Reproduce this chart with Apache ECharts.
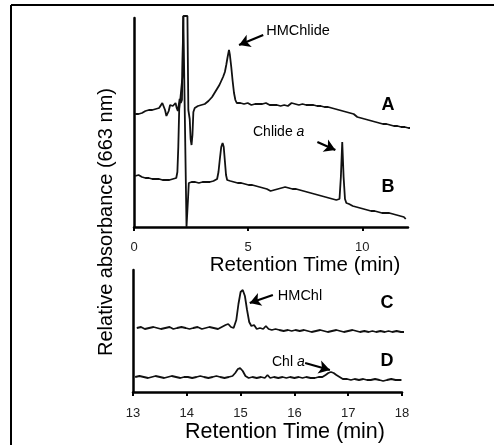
<!DOCTYPE html>
<html>
<head>
<meta charset="utf-8">
<script src="https://cdn.jsdelivr.net/npm/echarts@6/dist/echarts.min.js"></script>
<style>
html,body{margin:0;padding:0;background:#fff;}
#chart{width:494px;height:445px;}
</style>
</head>
<body>
<div id="chart"></div>
<script>
// Top panel ticks (min) and bottom panel ticks (min)
const topTicks = [0, 5, 10];
const bottomTicks = [13, 14, 15, 16, 17, 18];
const traceLabelsTop = ['A', 'B'];
const traceLabelsBottom = ['C', 'D'];

// Trace A: [retention time (min), relative absorbance (arb. units)]
const traceA = [[0.05,113],[0.12,114],[0.2,113],[0.28,115],[0.35,114],[0.42,115],[0.5,116],[0.58,115],[0.65,117],[0.72,116],[0.8,117],[0.88,116],[0.95,118],[1.02,117],[1.1,119],[1.18,120],[1.24,124],[1.3,123],[1.36,117],[1.42,111],[1.47,109],[1.52,116],[1.58,122],[1.64,123],[1.7,121],[1.76,123],[1.82,124],[1.87,119],[1.92,116],[1.96,122],[2.0,128],[2.05,124],[2.1,127],[2.16,211],[2.34,211],[2.38,117],[2.44,108],[2.48,88],[2.52,82],[2.56,92],[2.6,115],[2.66,119],[2.72,118],[2.8,121],[2.88,120],[2.95,122],[3.02,121],[3.1,123],[3.18,124],[3.26,126],[3.34,127],[3.42,130],[3.5,133],[3.58,136],[3.66,139],[3.74,142],[3.82,146],[3.9,150],[3.98,155],[4.04,162],[4.1,170],[4.16,177],[4.2,172],[4.26,160],[4.32,146],[4.38,134],[4.44,127],[4.5,124],[4.58,123],[4.66,124],[4.74,122],[4.82,123],[4.9,122],[4.98,124],[5.06,123],[5.14,122],[5.22,124],[5.3,123],[5.38,122],[5.46,123],[5.54,121],[5.62,123],[5.7,122],[5.78,124],[5.86,123],[5.94,122],[6.02,123],[6.1,122],[6.18,124],[6.26,122],[6.34,123],[6.42,121],[6.5,123],[6.58,122],[6.66,123],[6.74,121],[6.82,122],[6.9,124],[6.98,122],[7.06,123],[7.14,121],[7.22,122],[7.3,121],[7.38,123],[7.46,121],[7.54,122],[7.62,120],[7.7,122],[7.78,121],[7.86,122],[7.94,120],[8.02,121],[8.1,120],[8.18,121],[8.26,119],[8.34,120],[8.42,119],[8.5,120],[8.58,118],[8.66,119],[8.74,117],[8.82,118],[8.9,116],[8.98,117],[9.06,115],[9.14,116],[9.22,114],[9.3,115],[9.38,113],[9.46,114],[9.54,112],[9.62,113],[9.7,111],[9.78,110],[9.86,111],[9.94,109],[10.02,110],[10.1,108],[10.18,109],[10.26,107],[10.34,108],[10.42,106],[10.5,107],[10.58,105],[10.66,106],[10.74,104],[10.82,105],[10.9,103],[10.98,104],[11.06,103],[11.14,104],[11.22,102],[11.3,103],[11.38,101],[11.46,102],[11.54,101],[11.62,102],[11.7,100],[11.78,101],[11.86,100],[11.94,101],[12.02,99],[12.1,100],[12.18,99],[12.26,100],[12.34,98],[12.42,99]];

// Trace B
const traceB = [[0.05,51],[0.12,50],[0.2,52],[0.28,51],[0.35,50],[0.42,51],[0.5,49],[0.58,50],[0.65,49],[0.72,50],[0.8,48],[0.88,49],[0.95,48],[1.02,49],[1.1,48],[1.18,49],[1.25,47],[1.32,48],[1.4,47],[1.48,48],[1.55,47],[1.62,46],[1.7,48],[1.78,47],[1.85,49],[1.9,55],[1.94,80],[1.98,118],[2.03,128],[2.08,130],[2.12,150],[2.16,211],[2.2,211],[2.26,60],[2.3,0],[2.34,0],[2.37,30],[2.4,44],[2.46,46],[2.52,45],[2.6,47],[2.68,45],[2.76,46],[2.84,44],[2.92,46],[3.0,45],[3.08,47],[3.16,45],[3.24,46],[3.32,45],[3.4,47],[3.48,46],[3.56,47],[3.64,48],[3.7,55],[3.76,68],[3.82,80],[3.88,84],[3.93,80],[3.98,66],[4.03,52],[4.08,47],[4.14,45],[4.22,46],[4.3,44],[4.38,45],[4.46,43],[4.54,44],[4.62,42],[4.7,44],[4.78,42],[4.86,43],[4.94,41],[5.02,42],[5.1,41],[5.18,42],[5.26,40],[5.34,41],[5.42,39],[5.5,40],[5.58,38],[5.66,39],[5.74,37],[5.82,38],[5.9,37],[5.98,36],[6.06,38],[6.14,37],[6.22,39],[6.3,38],[6.38,40],[6.46,39],[6.54,41],[6.62,40],[6.7,41],[6.78,39],[6.86,40],[6.94,38],[7.02,39],[7.1,38],[7.18,38],[7.26,37],[7.34,38],[7.42,36],[7.5,37],[7.58,35],[7.66,36],[7.74,34],[7.82,35],[7.9,33],[7.98,34],[8.06,32],[8.14,33],[8.22,31],[8.3,32],[8.38,30],[8.46,31],[8.54,29],[8.62,30],[8.7,28],[8.78,28],[8.86,27],[8.94,26],[9.0,28],[9.06,50],[9.12,85],[9.18,50],[9.24,28],[9.3,24],[9.36,26],[9.42,23],[9.5,24],[9.58,21],[9.66,23],[9.74,20],[9.82,21],[9.9,19],[9.98,20],[10.06,18],[10.14,19],[10.22,17],[10.3,18],[10.38,16],[10.46,17],[10.54,16],[10.62,17],[10.7,15],[10.78,16],[10.86,14],[10.94,15],[11.02,14],[11.1,13],[11.18,14],[11.26,12],[11.34,13],[11.42,11],[11.5,12],[11.58,10],[11.66,11],[11.74,9],[11.82,10],[11.9,8]];

// Trace C
const traceC = [[13.07,64],[13.15,65],[13.22,63],[13.3,64],[13.38,65],[13.45,64],[13.52,63],[13.6,64],[13.68,65],[13.75,63],[13.82,64],[13.9,65],[13.98,64],[14.05,63],[14.12,64],[14.2,65],[14.28,63],[14.35,64],[14.42,65],[14.5,64],[14.58,63],[14.65,65],[14.72,67],[14.77,68],[14.82,65],[14.87,64],[14.92,72],[14.96,88],[15.0,100],[15.04,102],[15.08,96],[15.12,82],[15.16,70],[15.2,66],[15.25,67],[15.3,63],[15.36,64],[15.42,63],[15.47,66],[15.52,63],[15.58,62],[15.65,63],[15.72,62],[15.8,61],[15.88,62],[15.95,61],[16.02,62],[16.1,61],[16.18,62],[16.25,61],[16.32,60],[16.4,61],[16.48,62],[16.55,61],[16.62,60],[16.7,61],[16.78,62],[16.85,61],[16.92,60],[17.0,61],[17.08,62],[17.15,61],[17.22,60],[17.3,61],[17.38,60],[17.45,61],[17.52,60],[17.6,61],[17.68,60],[17.75,61],[17.82,60],[17.9,61],[17.98,60],[18.05,60]];

// Trace D
const traceD = [[13.04,15],[13.12,16],[13.2,15],[13.28,14],[13.35,15],[13.42,16],[13.5,15],[13.58,14],[13.65,15],[13.72,16],[13.8,15],[13.88,14],[13.95,15],[14.02,15],[14.1,14],[14.18,15],[14.25,16],[14.32,15],[14.4,14],[14.48,15],[14.55,16],[14.62,15],[14.7,14],[14.78,15],[14.85,16],[14.9,19],[14.95,23],[14.99,24],[15.04,21],[15.09,16],[15.15,14],[15.22,15],[15.3,14],[15.38,15],[15.45,14],[15.5,17],[15.55,14],[15.62,15],[15.7,14],[15.78,15],[15.85,14],[15.92,15],[16.0,14],[16.08,15],[16.15,14],[16.22,15],[16.3,14],[16.38,14],[16.45,15],[16.52,15],[16.58,17],[16.63,19],[16.68,20],[16.73,19],[16.78,17],[16.84,15],[16.9,13],[16.98,13],[17.05,12],[17.12,13],[17.2,12],[17.28,13],[17.35,12],[17.42,12],[17.5,13],[17.58,12],[17.65,11],[17.72,12],[17.8,13],[17.88,12],[17.95,12],[17.99,12]];

const FONT = '"Liberation Sans", Arial, sans-serif';
const chart = echarts.init(document.getElementById('chart'), null, {renderer: 'canvas'});

function arrow(from, to) {
  return {
    silent: true,
    symbol: ['none', 'arrow'],
    symbolSize: [10, 11],
    label: {show: false},
    lineStyle: {color: '#000', width: 2.2, type: 'solid'},
    emphasis: {disabled: true},
    data: [[{coord: from}, {coord: to}]]
  };
}

function xAxisCfg(gridIndex, min, max, ticks, margin) {
  return {
    type: 'value', gridIndex, min, max, interval: 1,
    axisLine: {show: true, onZero: false, lineStyle: {color: '#000', width: 2.5}},
    axisTick: {show: true, inside: false, length: 4, customValues: ticks, lineStyle: {color: '#000', width: 2}},
    axisLabel: {show: true, customValues: ticks, margin, color: '#222', fontSize: 13, fontFamily: FONT},
    splitLine: {show: false}
  };
}
function yAxisCfg(gridIndex, max) {
  return {
    type: 'value', gridIndex, min: 0, max,
    axisLine: {show: true, onZero: false, lineStyle: {color: '#000', width: 2.5}},
    axisTick: {show: false}, axisLabel: {show: false}, splitLine: {show: false}
  };
}
function lineSeries(data, xi, yi, extra) {
  return Object.assign({
    type: 'line', data, xAxisIndex: xi, yAxisIndex: yi,
    showSymbol: false, symbol: 'none', clip: false, animation: false,
    lineStyle: {color: '#111', width: 1.8}, silent: true
  }, extra || {});
}

const txt = (text, x, y, size, weight, extra) => ({
  type: 'text', x, y, silent: true,
  style: Object.assign({text, fill: '#000', font: (weight || 'normal') + ' ' + size + 'px ' + FONT, textAlign: 'center', textVerticalAlign: 'middle'}, extra || {})
});
const richText = (n, i, x, y) => ({
  type: 'text', x, y, silent: true,
  style: {text: '{n|' + n + '}{i|' + i + '}', rich: {n: {fontSize: 14, fontFamily: FONT, fill: '#000'}, i: {fontSize: 14, fontFamily: FONT, fontStyle: 'italic', fill: '#000'}}, textAlign: 'left', textVerticalAlign: 'middle'}
});

const yTitle = txt('Relative absorbance (663 nm)', 106, 222, 20);
yTitle.rotation = Math.PI / 2;

const option = {
  animation: false,
  backgroundColor: '#fff',
  grid: [
    {left: 134, top: 18, width: 274, height: 209},
    {left: 133, top: 270, width: 269, height: 122}
  ],
  xAxis: [
    Object.assign(xAxisCfg(0, 0, 12, topTicks, 14), {interval: 5}),
    xAxisCfg(1, 13, 18, bottomTicks, 15)
  ],
  yAxis: [yAxisCfg(0, 209), yAxisCfg(1, 122)],
  series: [
    lineSeries(traceA, 0, 0, {name: traceLabelsTop[0], markLine: arrow([5.66, 192], [4.6, 182])}),
    lineSeries(traceB, 0, 0, {name: traceLabelsTop[1], markLine: arrow([8.03, 85], [8.82, 77])}),
    lineSeries(traceC, 1, 1, {name: traceLabelsBottom[0], markLine: arrow([15.6, 97], [15.17, 89])}),
    lineSeries(traceD, 1, 1, {name: traceLabelsBottom[1], markLine: arrow([16.2, 29], [16.66, 22])})
  ],
  graphic: [
    {type: 'line', silent: true, shape: {x1: 11, y1: 5, x2: 494, y2: 5}, style: {stroke: '#000', lineWidth: 2}},
    {type: 'line', silent: true, shape: {x1: 11, y1: 5, x2: 11, y2: 445}, style: {stroke: '#000', lineWidth: 2}},
    yTitle,
    txt('Retention Time (min)', 305, 265, 20.5),
    txt('Retention Time (min)', 285, 432, 21.5),
    txt(traceLabelsTop[0], 388, 105, 18, 'bold'),
    txt(traceLabelsTop[1], 388, 187, 18, 'bold'),
    txt(traceLabelsBottom[0], 387, 303, 18, 'bold'),
    txt(traceLabelsBottom[1], 387, 361, 18, 'bold'),
    txt('HMChlide', 298, 31, 14.5),
    richText('Chlide ', 'a', 253, 132),
    txt('HMChl', 300, 296, 14.5),
    richText('Chl ', 'a', 272, 362)
  ]
};
chart.setOption(option);
</script>
</body>
</html>
